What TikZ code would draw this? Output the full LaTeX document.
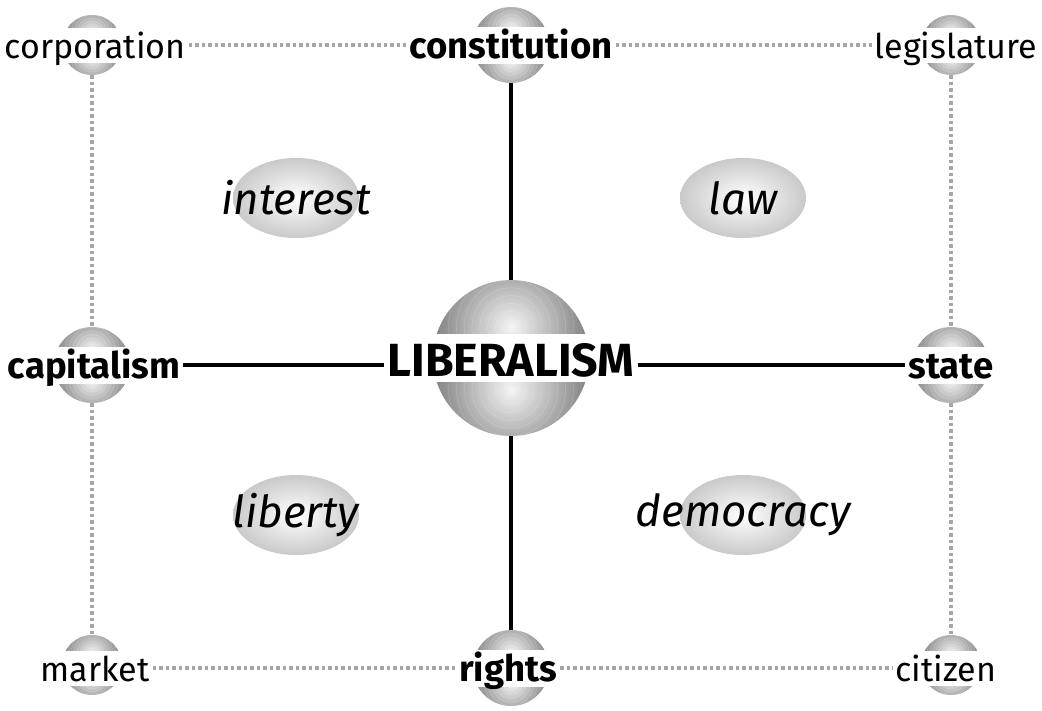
\documentclass[tikz,border=0pt]{standalone}
\usepackage{fontspec}
\setmainfont{Fira Sans}
\usetikzlibrary{shapes.geometric,calc}
\begin{document}
\begin{tikzpicture}[x=1pt,y=-1pt,
  sphere/.style={circle, inner sep=0pt, minimum size=2*#1, path picture={
    \begin{scope}
      \clip (path picture bounding box.west) rectangle (path picture bounding box.north east);
      \shade[inner color=gray!8, outer color=black!62] ([yshift=0.4*#1]path picture bounding box.center) circle (1.25*#1);
      \foreach \k in {0.2,0.3,...,1.6} \draw[white, opacity=0.18, line width=0.6pt] ([yshift=0.4*#1]path picture bounding box.center) circle (\k*#1);
    \end{scope}
    \begin{scope}
      \clip (path picture bounding box.west) rectangle (path picture bounding box.south east);
      \shade[inner color=gray!8, outer color=black!62] ([yshift=-0.4*#1]path picture bounding box.center) circle (1.25*#1);
      \foreach \k in {0.2,0.3,...,1.6} \draw[white, opacity=0.18, line width=0.6pt] ([yshift=-0.4*#1]path picture bounding box.center) circle (\k*#1);
    \end{scope}}},
  lab/.style={fill=white, inner xsep=3pt, inner ysep=1pt, text height=30pt, text depth=3pt, font=\fontsize{34}{34}\selectfont},
  blab/.style={fill=white, inner xsep=3pt, inner ysep=1pt, text height=31pt, text depth=4pt, font=\fontsize{36.5}{36.5}\selectfont\bfseries},
  ell/.style={ellipse, inner sep=0pt, minimum width=126pt, minimum height=80pt, inner color=white, outer color=gray!42, font=\fontsize{44}{44}\selectfont\itshape},
  solidcon/.style={line width=3.5pt, black},
  dotcon/.style={line width=3.5pt, gray!70, dash pattern=on 3.5pt off 3pt}
]
\useasboundingbox[fill=white] (0,0) rectangle (1042,710);

% ellipses
\node[ell] (eInt) at (296,198) {\makebox[0pt]{interest}};
\node[ell] (eLaw) at (743,198) {\makebox[0pt]{law}};
\node[ell] (eLib) at (296,515) {\makebox[0pt]{liberty}};
\node[ell] (eDem) at (743,515) {\makebox[0pt]{democracy}};

% spheres
\node[sphere=30pt] (sCorp) at (92,45) {};
\node[sphere=38pt] (sCon) at (511,45) {};
\node[sphere=30pt] (sLeg) at (951,45) {};
\node[sphere=38pt] (sCap) at (92,365) {};
\node[sphere=78pt] (sLib) at (511,358) {};
\node[sphere=38pt] (sState) at (951,365) {};
\node[sphere=30pt] (sMar) at (92,665) {};
\node[sphere=38pt] (sRig) at (511,668) {};
\node[sphere=30pt] (sCit) at (951,665) {};

% labels
\node[lab] (lCorp) at (95,45) {corporation};
\node[blab] (lCon) at (511,45) {constitution};
\node[lab] (lLeg) at (956,45) {legislature};
\node[blab] (lCap) at (94,365) {capitalism};
\node[fill=white, inner xsep=3pt, inner ysep=2pt, text height=40pt, text depth=4pt, font=\fontsize{46.5}{46.5}\selectfont\bfseries] (lLib) at (511,358) {LIBERALISM};
\node[blab] (lState) at (951,365) {state};
\node[lab] (lMar) at (95,668) {market};
\node[blab] (lRig) at (508,668) {rights};
\node[lab] (lCit) at (946,668) {citizen};

% connectors
\draw[solidcon] (sCon) -- (sLib);
\draw[solidcon] (sLib) -- (sRig);
\draw[solidcon] (lCap) -- (lCap -| lLib.west);
\draw[solidcon] (lState -| lLib.east) -- (lState);
\draw[dotcon] (lCorp) -- (lCon);
\draw[dotcon] (lCon) -- (lLeg);
\draw[dotcon] (lMar) -- (lRig);
\draw[dotcon] (lRig) -- (lCit);
\draw[dotcon] (sCorp) -- (sCap);
\draw[dotcon] (sCap) -- (sMar);
\draw[dotcon] (sLeg) -- (sState);
\draw[dotcon] (sState) -- (sCit);
\end{tikzpicture}
\end{document}
